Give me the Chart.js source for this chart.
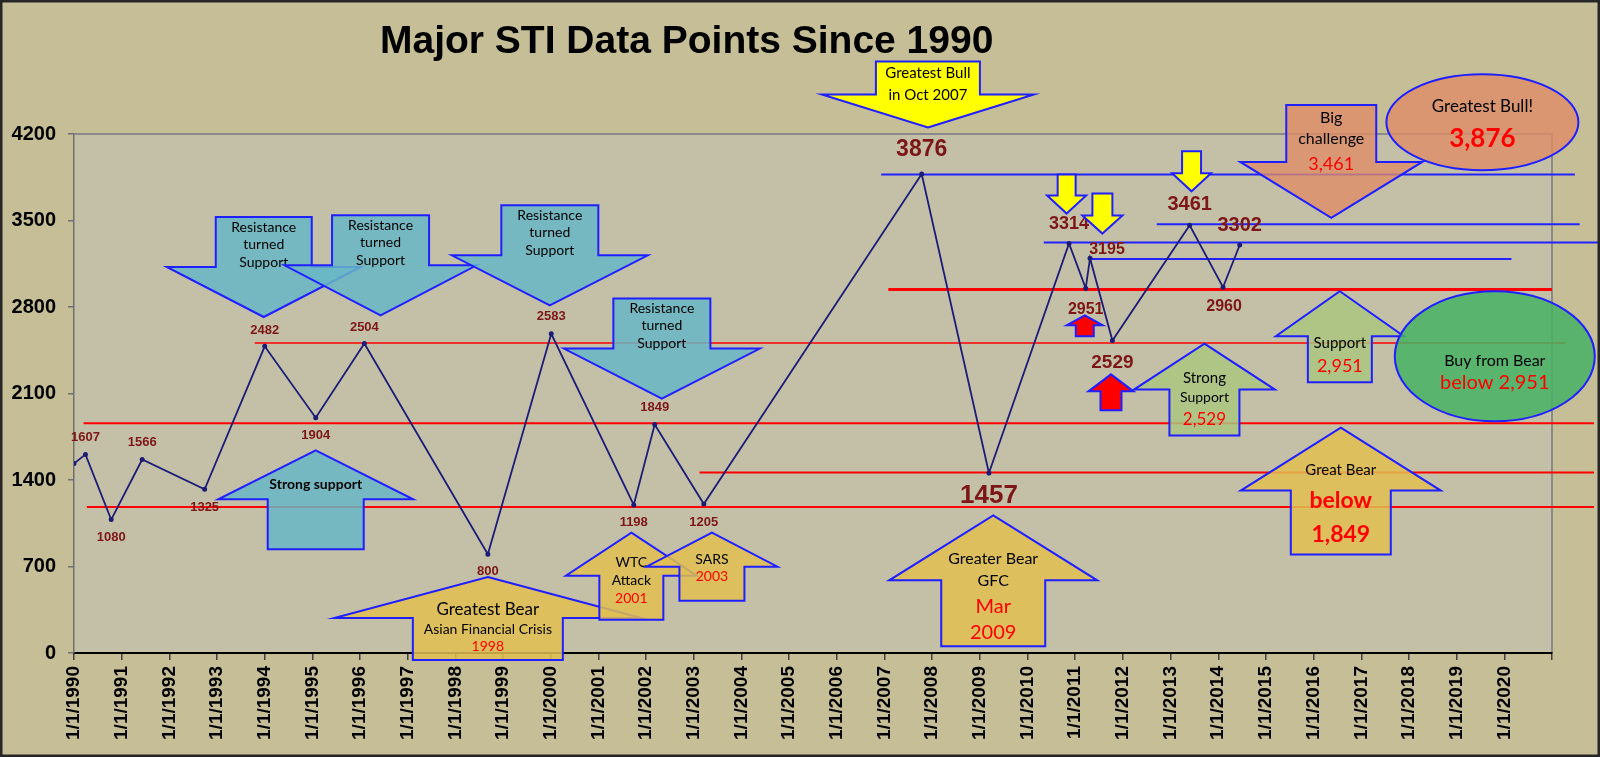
<!DOCTYPE html>
<html lang="en">
<head>
<meta charset="UTF-8">
<title>Major STI Data Points Since 1990</title>
<style>
  html, body { margin: 0; padding: 0; background: #c6be97; }
  canvas { display: block; }
</style>
</head>
<body>
<canvas id="stiChart" width="1600" height="757"></canvas>
<script src="https://cdn.jsdelivr.net/npm/chart.js"></script>
<script>
// STI turning points: decimal year and index level
const pointYears  = [1990.00, 1990.24, 1990.78, 1991.43, 1992.74, 1994.00, 1995.07, 1996.09, 1998.68, 2000.01, 2001.74,
                     2002.18, 2003.21, 2007.78, 2009.19, 2010.87, 2011.22, 2011.31, 2011.78, 2013.40, 2014.10, 2014.45];
const pointValues = [1533, 1607, 1080, 1566, 1325, 2482, 1904, 2504, 800, 2583, 1198,
                     1849, 1205, 3876, 1457, 3314, 2951, 3195, 2529, 3461, 2960, 3302];
const pointLabels = ['', '1607', '1080', '1566', '1325', '2482', '1904', '2504', '800', '2583', '1198',
                     '1849', '1205', '3876', '1457', '3314', '2951', '3195', '2529', '3461', '2960', '3302'];

// support / resistance levels
const levelValues = [1860, 1181, 1460, 2509, 2941, 3873, 3469, 3321, 3188];
const levelFrom   = [1990.20, 1990.27, 2003.12, 1993.79, 2007.08, 2006.93, 2012.71, 2010.34, 2011.30];
const levelTo     = [2021.88, 2021.88, 2021.88, 2021.29, 2021.00, 2021.48, 2021.58, 2022.00, 2020.15];

// axis ticks
const yTicks = [0, 700, 1400, 2100, 2800, 3500, 4200];
const xTickYears = [1990, 1991, 1992, 1993, 1994, 1995, 1996, 1997, 1998, 1999, 2000, 2001, 2002, 2003, 2004, 2005,
                    2006, 2007, 2008, 2009, 2010, 2011, 2012, 2013, 2014, 2015, 2016, 2017, 2018, 2019, 2020, 2021];

// styling for the levels and the point labels (kept apart from the data)
const levelColors = ['#ff0000', '#ff0000', '#ff0000', '#ff0000', '#ff0000', '#2323ff', '#2323ff', '#2323ff', '#2323ff'];
const levelWidths = [2, 2, 2, 1.6, 3, 2, 2, 2, 2];
const labelSizes  = [13, 13, 13, 13, 13, 13, 13, 13, 13, 13, 13, 13, 13, 23, 26, 18, 16, 16, 19, 20, 16, 20];
const labelDy     = [0, -17, 18, -17, 18, -16, 18, -16, 17, -17, 17, -17, 18, -24, 23, -19, 21, -9, 22, -21, 19, -19];
const labelDx     = [0, 0, 0, 0, 0, 0, 0, 0, 0, 0, 0, 0, 0, 0, 0, 0, 0, 17, 0, 0, 1, 0];

const TEAL = 'rgba(104,182,198,0.85)';
const GOLD = 'rgba(226,190,80,0.85)';
const SALMON = 'rgba(222,140,104,0.8)';
const LEAF = 'rgba(170,198,128,0.85)';
const GREEN = 'rgba(70,178,100,0.85)';
const RED = '#ff0000';

// callouts: anchored at their tip (arrows) or centre (ellipses) in chart units
const callouts = [
  { kind: 'arrow', dir: 'down', x: 1993.98, y: 2719, bodyW: 96, bodyH: 50, headW: 194, headH: 50, fill: TEAL,
    texts: [{ t: 'Resistance', dy: -90, size: 14 }, { t: 'turned', dy: -73, size: 14 }, { t: 'Support', dy: -55, size: 14 }] },
  { kind: 'arrow', dir: 'down', x: 1996.43, y: 2733, bodyW: 97, bodyH: 50, headW: 192, headH: 50, fill: TEAL,
    texts: [{ t: 'Resistance', dy: -90, size: 14 }, { t: 'turned', dy: -73, size: 14 }, { t: 'Support', dy: -55, size: 14 }] },
  { kind: 'arrow', dir: 'down', x: 1999.98, y: 2814, bodyW: 97, bodyH: 50, headW: 196, headH: 50, fill: TEAL,
    texts: [{ t: 'Resistance', dy: -90, size: 14 }, { t: 'turned', dy: -73, size: 14 }, { t: 'Support', dy: -55, size: 14 }] },
  { kind: 'arrow', dir: 'down', x: 2002.33, y: 2059, bodyW: 97, bodyH: 50, headW: 196, headH: 50, fill: TEAL,
    texts: [{ t: 'Resistance', dy: -90, size: 14 }, { t: 'turned', dy: -73, size: 14 }, { t: 'Support', dy: -55, size: 14 }] },
  { kind: 'arrow', dir: 'up', x: 1995.07, y: 1640, bodyW: 96, bodyH: 50, headW: 195, headH: 49, fill: TEAL,
    texts: [{ t: 'Strong support', dy: 34, size: 14, bold: true }] },
  { kind: 'arrow', dir: 'up', x: 1998.68, y: 615, bodyW: 150, bodyH: 42, headW: 307, headH: 41, fill: GOLD,
    texts: [{ t: 'Greatest Bear', dy: 33, size: 17 }, { t: 'Asian Financial Crisis', dy: 52, size: 14 },
            { t: '1998', dy: 69, size: 14, color: RED }] },
  { kind: 'arrow', dir: 'up', x: 2001.69, y: 974, bodyW: 64, bodyH: 44, headW: 131, headH: 43, fill: GOLD,
    texts: [{ t: 'WTC', dy: 30, size: 14 }, { t: 'Attack', dy: 48, size: 14 }, { t: '2001', dy: 66, size: 14, color: RED }] },
  { kind: 'arrow', dir: 'up', x: 2003.38, y: 974, bodyW: 65, bodyH: 34, headW: 131, headH: 34, fill: GOLD,
    texts: [{ t: 'SARS', dy: 27, size: 14 }, { t: '2003', dy: 44, size: 14, color: RED }] },
  { kind: 'arrow', dir: 'down', x: 2007.91, y: 4252, bodyW: 104, bodyH: 33, headW: 212, headH: 33, fill: '#ffff00',
    texts: [{ t: 'Greatest Bull', dy: -54, size: 15 }, { t: 'in Oct 2007', dy: -32, size: 15 }] },
  { kind: 'arrow', dir: 'down', x: 2010.82, y: 3556, bodyW: 18, bodyH: 21, headW: 39, headH: 18, fill: '#ffff00', texts: [] },
  { kind: 'arrow', dir: 'down', x: 2011.57, y: 3394, bodyW: 20, bodyH: 22, headW: 40, headH: 18, fill: '#ffff00', texts: [] },
  { kind: 'arrow', dir: 'down', x: 2013.44, y: 3736, bodyW: 19, bodyH: 22, headW: 39, headH: 18, fill: '#ffff00', texts: [] },
  { kind: 'arrow', dir: 'up', x: 2011.20, y: 2733, bodyW: 18, bodyH: 11, headW: 36, headH: 10, fill: RED, texts: [] },
  { kind: 'arrow', dir: 'up', x: 2011.75, y: 2255, bodyW: 21, bodyH: 19, headW: 45, headH: 17, fill: RED, texts: [] },
  { kind: 'arrow', dir: 'down', x: 2016.37, y: 3521, bodyW: 90, bodyH: 57, headW: 182, headH: 56, fill: SALMON,
    texts: [{ t: 'Big', dy: -100, size: 16 }, { t: 'challenge', dy: -79, size: 16 }, { t: '3,461', dy: -54, size: 18, color: RED }] },
  { kind: 'ellipse', x: 2019.54, y: 4295, rx: 96, ry: 48, fill: SALMON,
    texts: [{ t: 'Greatest Bull!', dy: -16, size: 17 }, { t: '3,876', dy: 16, size: 26, bold: true, color: RED }] },
  { kind: 'arrow', dir: 'up', x: 2016.55, y: 2927, bodyW: 64, bodyH: 46, headW: 128, headH: 45, fill: LEAF,
    texts: [{ t: 'Support', dy: 52, size: 15 }, { t: '2,951', dy: 75, size: 18, color: RED }] },
  { kind: 'arrow', dir: 'up', x: 2013.71, y: 2504, bodyW: 70, bodyH: 46, headW: 141, headH: 46, fill: LEAF,
    texts: [{ t: 'Strong', dy: 35, size: 15 }, { t: 'Support', dy: 54, size: 14 }, { t: '2,529', dy: 76, size: 17, color: RED }] },
  { kind: 'ellipse', x: 2019.80, y: 2401, rx: 100, ry: 65, fill: GREEN,
    texts: [{ t: 'Buy from Bear', dy: 5, size: 16 }, { t: 'below 2,951', dy: 26, size: 20, color: RED }] },
  { kind: 'arrow', dir: 'up', x: 2016.57, y: 1824, bodyW: 100, bodyH: 64, headW: 200, headH: 63, fill: GOLD,
    texts: [{ t: 'Great Bear', dy: 43, size: 15 }, { t: 'below', dy: 73, size: 23, bold: true, color: RED },
            { t: '1,849', dy: 107, size: 23, bold: true, color: RED }] },
  { kind: 'arrow', dir: 'up', x: 2009.28, y: 1114, bodyW: 104, bodyH: 66, headW: 208, headH: 65, fill: GOLD,
    texts: [{ t: 'Greater Bear', dy: 44, size: 16 }, { t: 'GFC', dy: 66, size: 16 },
            { t: 'Mar', dy: 91, size: 20, color: RED }, { t: '2009', dy: 117, size: 20, color: RED }] }
];

const LABEL_FONT = '"Liberation Sans", Arial, sans-serif';
const NOTE_FONT = 'Lato, "Open Sans", sans-serif';

function blockArrow(ctx, tx, ty, a) {
  const s = a.dir === 'down' ? -1 : 1;
  const hw = a.headW / 2, bw = a.bodyW / 2;
  ctx.beginPath();
  ctx.moveTo(tx, ty);
  ctx.lineTo(tx + hw, ty + s * a.headH);
  ctx.lineTo(tx + bw, ty + s * a.headH);
  ctx.lineTo(tx + bw, ty + s * (a.headH + a.bodyH));
  ctx.lineTo(tx - bw, ty + s * (a.headH + a.bodyH));
  ctx.lineTo(tx - bw, ty + s * a.headH);
  ctx.lineTo(tx - hw, ty + s * a.headH);
  ctx.closePath();
}

// background, frame, title, point labels and callouts
const decorPlugin = {
  id: 'decor',
  beforeDraw(chart) {
    const { ctx, chartArea: a } = chart;
    ctx.save();
    ctx.fillStyle = '#c6be97';
    ctx.fillRect(0, 0, chart.width, chart.height);
    ctx.fillStyle = '#c4c0a7';
    ctx.fillRect(a.left, a.top, a.right - a.left, a.bottom - a.top);
    ctx.strokeStyle = '#8a8a8a';
    ctx.lineWidth = 2;
    ctx.beginPath();
    ctx.moveTo(a.left, a.top);
    ctx.lineTo(a.right, a.top);
    ctx.lineTo(a.right, a.bottom);
    ctx.stroke();
    ctx.fillStyle = '#000';
    ctx.font = 'bold 39px ' + LABEL_FONT;
    ctx.textAlign = 'left';
    ctx.textBaseline = 'alphabetic';
    ctx.fillText('Major STI Data Points Since 1990', 380, 53);
    ctx.restore();
  },
  afterDatasetsDraw(chart) {
    const { ctx } = chart;
    const xs = chart.scales.x, ys = chart.scales.y;
    const pts = chart.getDatasetMeta(0).data;
    ctx.save();
    ctx.textAlign = 'center';
    ctx.textBaseline = 'middle';
    ctx.fillStyle = '#7d1616';
    pts.forEach((p, i) => {
      if (!pointLabels[i]) return;
      ctx.font = 'bold ' + labelSizes[i] + 'px ' + LABEL_FONT;
      ctx.fillText(pointLabels[i], p.x + labelDx[i], p.y + labelDy[i]);
    });

    callouts.forEach(c => {
      const cx = xs.getPixelForValue(c.x), cy = ys.getPixelForValue(c.y);
      if (c.kind === 'arrow') {
        blockArrow(ctx, cx, cy, c);
      } else {
        ctx.beginPath();
        ctx.ellipse(cx, cy, c.rx, c.ry, 0, 0, Math.PI * 2);
      }
      ctx.fillStyle = c.fill;
      ctx.fill();
      ctx.strokeStyle = '#1f1fff';
      ctx.lineWidth = 2;
      ctx.stroke();
      c.texts.forEach(t => {
        ctx.font = (t.bold ? 'bold ' : '') + t.size + 'px ' + NOTE_FONT;
        ctx.fillStyle = t.color || '#000';
        ctx.fillText(t.t, cx + (t.dx || 0), cy + t.dy);
      });
    });
    ctx.restore();
  },
  afterDraw(chart) {
    const { ctx } = chart;
    ctx.save();
    ctx.strokeStyle = '#262626';
    ctx.lineWidth = 3;
    ctx.strokeRect(1, 1, chart.width - 2, chart.height - 2);
    ctx.restore();
  }
};

const datasets = [{
  label: 'STI',
  data: pointYears.map((yr, i) => ({ x: yr, y: pointValues[i] })),
  borderColor: '#1c1c78',
  backgroundColor: '#1c1c78',
  borderWidth: 1.8,
  pointRadius: 1.6,
  tension: 0
}];
levelValues.forEach((v, i) => {
  datasets.push({
    label: 'Level ' + v,
    data: [{ x: levelFrom[i], y: v }, { x: levelTo[i], y: v }],
    borderColor: levelColors[i],
    borderWidth: levelWidths[i],
    pointRadius: 0,
    clip: false
  });
});

new Chart(document.getElementById('stiChart'), {
  type: 'line',
  data: { datasets },
  options: {
    responsive: false,
    animation: false,
    devicePixelRatio: 1,
    layout: { padding: { top: 134, right: 48, left: 0, bottom: 0 } },
    plugins: { legend: { display: false }, tooltip: { enabled: false }, title: { display: false } },
    scales: {
      x: {
        type: 'linear',
        min: xTickYears[0],
        max: xTickYears[xTickYears.length - 1],
        afterBuildTicks: s => { s.ticks = xTickYears.map(v => ({ value: v })); },
        afterFit: s => { s.height = 104; },
        ticks: {
          autoSkip: false,
          maxRotation: 90,
          minRotation: 90,
          padding: 6,
          color: '#000',
          font: { family: LABEL_FONT, size: 19, weight: 'bold' },
          callback: v => (v < xTickYears[xTickYears.length - 1] ? '1/1/' + v : '')
        },
        grid: { drawOnChartArea: false, tickLength: 7, color: '#404040', lineWidth: 1.5 },
        border: { color: '#000', width: 2 }
      },
      y: {
        min: yTicks[0],
        max: yTicks[yTicks.length - 1],
        afterBuildTicks: s => { s.ticks = yTicks.map(v => ({ value: v })); },
        afterFit: s => { s.width = 74; },
        ticks: {
          padding: 12,
          color: '#000',
          font: { family: LABEL_FONT, size: 20, weight: 'bold' },
          callback: v => String(v)
        },
        grid: { drawOnChartArea: false, tickLength: 6, color: '#707070', lineWidth: 1.5 },
        border: { color: '#707070', width: 1.5 }
      }
    }
  },
  plugins: [decorPlugin]
});
</script>
</body>
</html>
